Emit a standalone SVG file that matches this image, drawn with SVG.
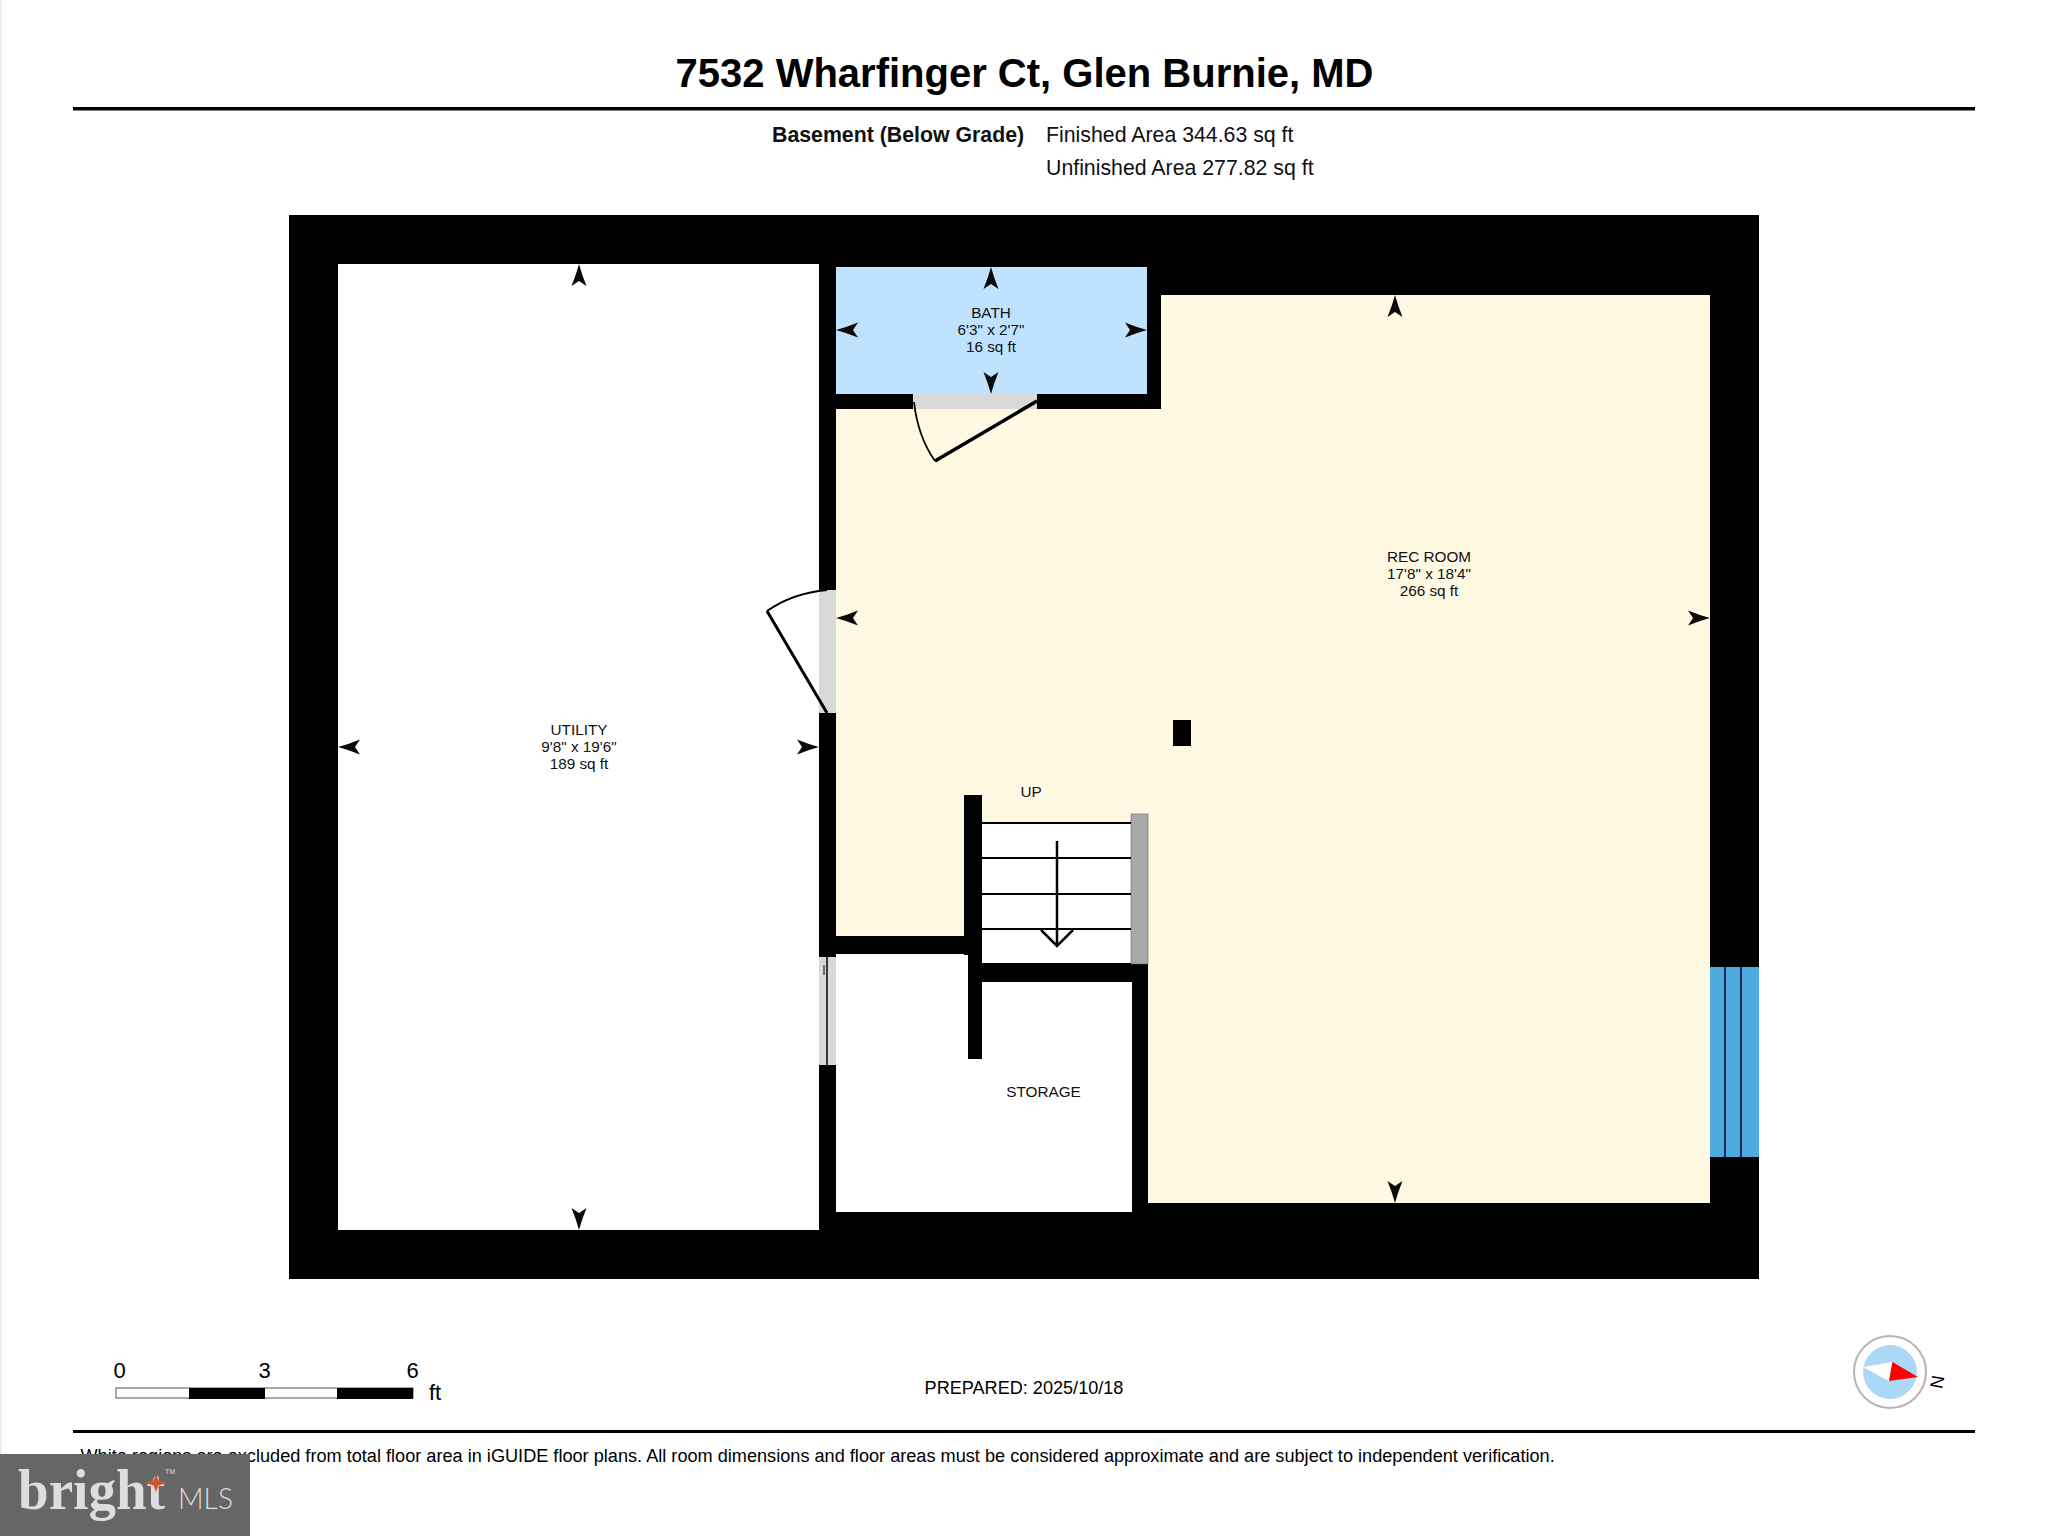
<svg xmlns="http://www.w3.org/2000/svg" width="2048" height="1536" viewBox="0 0 2048 1536">
<style>
.s{font-family:"Liberation Sans",Arial,sans-serif;fill:#000}
.r{font-size:15.300px;text-anchor:middle;fill:#111}
.h{font-size:21.300px;fill:#111}
.w{fill:#000}
.g{fill:#d9d9d9}
.l{stroke:#000;fill:none}
</style>
<defs>
<path id="a" d="M0 0Q11 -3 22 -7.500L17 0L22 7.500Q11 3 0 0Z" fill="#0a0a0a" stroke="none"/>
</defs>
<rect width="2048" height="1536" fill="#fff"/>
<rect x="0" y="0" width="2" height="1536" fill="#eee"/>
<g id="header">
<text class="s" x="1024.500" y="86.500" font-size="40" font-weight="bold" text-anchor="middle">7532 Wharfinger Ct, Glen Burnie, MD</text>
<rect x="73" y="107" width="1902" height="3.500"/>
<text class="s h" x="772" y="141.500" font-weight="bold">Basement (Below Grade)</text>
<text class="s h" x="1046" y="141.500">Finished Area 344.63 sq ft</text>
<text class="s h" x="1046" y="174.500">Unfinished Area 277.82 sq ft</text>
</g>
<g id="plan">
<rect class="w" x="289" y="215" width="1470" height="1064"/>
<rect id="utility" x="338" y="264" width="481" height="966" fill="#fff"/>
<rect id="bath" x="836" y="267" width="311" height="127" fill="#bfe2fe"/>
<path id="rec" d="M1161 295H1710V1203H1148V963H982V795H964V936H836V409H1161Z" fill="#fff8e2"/>
<rect id="storage" x="836" y="954" width="296" height="258" fill="#fff"/>
<rect x="982" y="823" width="149" height="140" fill="#fff"/>
<rect class="w" x="968" y="936" width="14" height="123"/>
<rect class="w" x="964" y="795" width="18" height="160"/>
<rect class="w" x="836" y="936" width="132" height="18"/>
<rect class="w" x="982" y="963" width="166" height="19"/>
<rect class="w" x="1132" y="963" width="16" height="250"/>
<rect class="w" x="1173" y="720" width="18" height="26"/>
<rect x="1131" y="814" width="17" height="150" fill="#a9a9a9" stroke="#666" stroke-width="0.600"/>
<g class="l" stroke-width="2">
<path d="M982 823H1131M982 858H1131M982 894H1131M982 929H1131"/>
<path d="M1057 841V945M1041 930L1057 946L1073 930" stroke-width="2.500"/>
</g>
<rect class="g" x="913" y="394" width="124" height="15"/>
<rect class="g" x="819" y="590" width="17" height="123"/>
<rect class="g" x="819" y="957" width="17" height="108"/>
<path class="l" stroke-width="1.500" d="M827 957V1065"/>
<path class="l" stroke-width="1" d="M824 965V975"/>
<path class="l" stroke-width="3.500" d="M1037 401L935 461"/>
<path class="l" stroke-width="1.800" d="M914 402Q918 437 935 461"/>
<path class="l" stroke-width="3" d="M827 713L767 611"/>
<path class="l" stroke-width="2" d="M767 611Q793 593 827 590"/>
<g id="window">
<rect x="1710" y="967" width="49" height="190" fill="#4fabdf"/>
<path d="M1725 967V1157M1741 967V1157" stroke="#0d2b58" stroke-width="2"/>
</g>
<g id="arrows">
<use href="#a" transform="translate(579 264) rotate(90)"/>
<use href="#a" transform="translate(579 1230) rotate(-90)"/>
<use href="#a" transform="translate(338 747)"/>
<use href="#a" transform="translate(819 747) rotate(180)"/>
<use href="#a" transform="translate(991 267) rotate(90)"/>
<use href="#a" transform="translate(991 394) rotate(-90)"/>
<use href="#a" transform="translate(836 330)"/>
<use href="#a" transform="translate(1147 330) rotate(180)"/>
<use href="#a" transform="translate(1395 295) rotate(90)"/>
<use href="#a" transform="translate(1395 1203) rotate(-90)"/>
<use href="#a" transform="translate(836 618)"/>
<use href="#a" transform="translate(1710 618) rotate(180)"/>
</g>
<g id="labels">
<text class="s r" x="991" y="318">BATH</text>
<text class="s r" x="991" y="335">6'3" x 2'7"</text>
<text class="s r" x="991" y="352">16 sq ft</text>
<text class="s r" x="1429" y="562">REC ROOM</text>
<text class="s r" x="1429" y="579">17'8" x 18'4"</text>
<text class="s r" x="1429" y="596">266 sq ft</text>
<text class="s r" x="579" y="735">UTILITY</text>
<text class="s r" x="579" y="752">9'8" x 19'6"</text>
<text class="s r" x="579" y="769">189 sq ft</text>
<text class="s r" x="1031" y="797">UP</text>
<text class="s r" x="1043.500" y="1097">STORAGE</text>
</g>
</g>
<g id="scale">
<rect x="116" y="1388" width="297" height="10" fill="#fff" stroke="#555" stroke-width="1"/>
<rect x="189" y="1388" width="76" height="11"/>
<rect x="337" y="1388" width="76" height="11"/>
<g class="s" font-size="22" fill="#111">
<text x="119.500" y="1378" text-anchor="middle">0</text>
<text x="264.500" y="1378" text-anchor="middle">3</text>
<text x="412.500" y="1378" text-anchor="middle">6</text>
<text x="429" y="1400">ft</text>
</g>
</g>
<g id="compass">
<circle cx="1890" cy="1372" r="36" fill="#fff" stroke="#b5b5b5" stroke-width="2"/>
<circle cx="1890" cy="1372" r="27" fill="#acd8f7"/>
<path d="M1863 1367L1892 1362L1889 1381Z" fill="#fff"/>
<path d="M1892.500 1362L1918 1377L1889 1381Z" fill="#f00"/>
<text class="s" font-size="18" text-anchor="middle" transform="translate(1931 1381) rotate(100)">N</text>
</g>
<g id="footer">
<text class="s" x="1024" y="1394" font-size="18.100" text-anchor="middle" fill="#111">PREPARED: 2025/10/18</text>
<rect x="73" y="1430" width="1902" height="3"/>
<text class="s" x="80.500" y="1462" font-size="18.150" fill="#111">White regions are excluded from total floor area in iGUIDE floor plans. All room dimensions and floor areas must be considered approximate and are subject to independent verification.</text>
</g>
<g id="logo">
<rect x="0" y="1454" width="250" height="82" fill="#666"/>
<text x="18" y="1509" font-family="Liberation Serif,serif" font-size="57" font-weight="bold" fill="#ddd" textLength="147" lengthAdjust="spacingAndGlyphs">bright</text>
<path d="M156 1474L158.500 1480.500L167 1483L158.500 1485.500L156 1492L153.500 1485.500L145 1483L153.500 1480.500Z" fill="#d2562c"/>
<text x="178" y="1509" font-family="Lato,sans-serif" font-weight="300" font-size="29" fill="#ddd" textLength="55" lengthAdjust="spacingAndGlyphs">MLS</text>
<text x="165" y="1474" font-family="Liberation Sans,sans-serif" font-size="7" fill="#ddd">TM</text>
</g>
</svg>
